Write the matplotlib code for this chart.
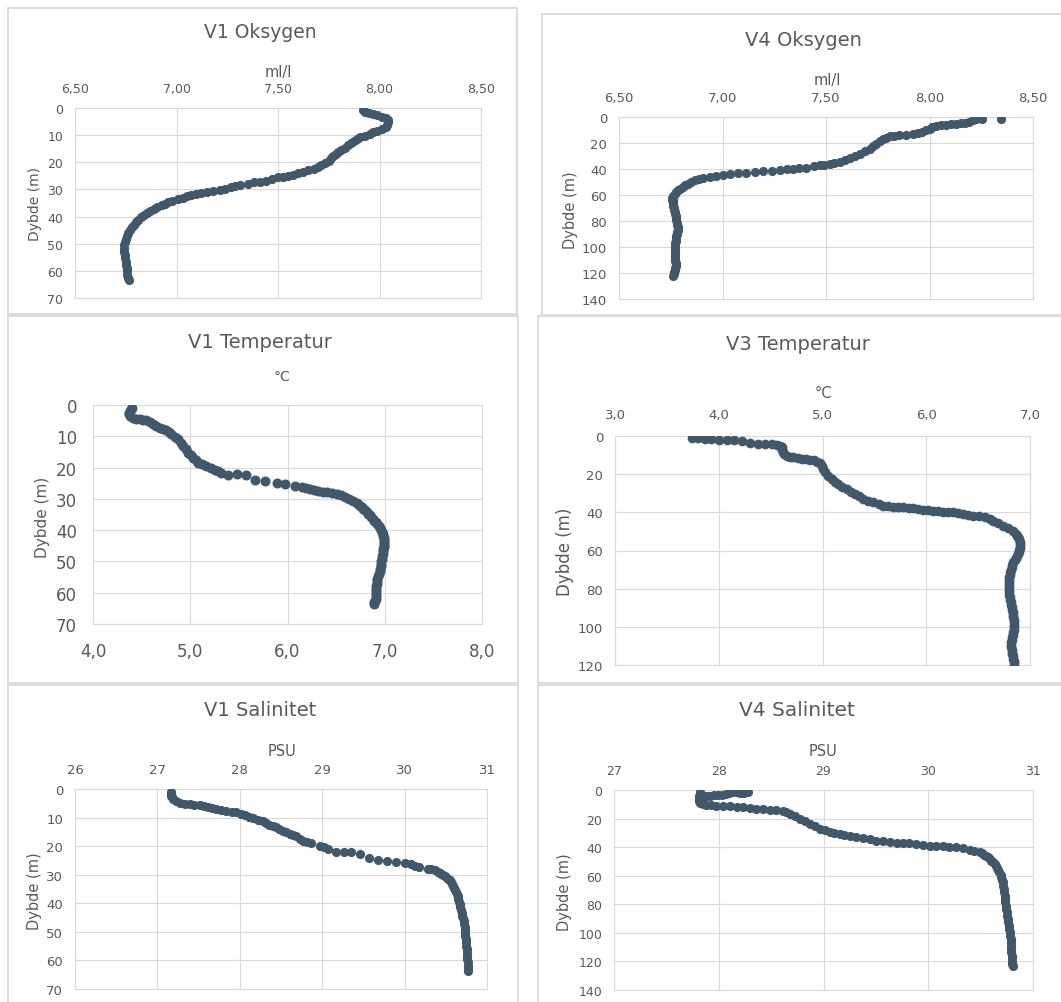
import matplotlib
matplotlib.use("Agg")
import matplotlib.pyplot as plt
from matplotlib.ticker import FuncFormatter, MultipleLocator
from matplotlib.patches import Rectangle

W, H = 1061, 1003
dot_col = "#41586A"
txt_col = "#595959"
line_col = "#D9D9D9"

# ---- V1 Oksygen (ml/l vs depth m)
v1_oks_dybde = [0.7, 1.3, 1.8, 2.3, 2.7, 3.2, 3.8, 4.5, 5.3, 6.1, 7.0, 7.7, 8.3, 9.0, 9.6, 10.2,
                10.8, 11.5, 12.2, 13.0, 13.8, 14.6, 15.4, 16.2, 17.0, 17.8, 18.6, 19.4, 20.2, 20.9,
                21.6, 22.3, 22.9, 23.5, 24.0, 24.5, 24.9, 25.3, 25.6, 26.2, 26.8, 27.1, 27.4, 27.9,
                28.3, 28.8, 29.2, 29.7, 30.1, 30.6, 31.0, 31.3, 31.7, 32.1, 32.6, 33.2, 33.7, 34.1,
                34.7, 35.3, 35.9, 36.5, 37.2, 37.9, 38.7, 39.5, 40.3, 41.1, 42.0, 43.0, 44.0, 45.0,
                46.0, 47.0, 48.2, 49.4, 50.6, 51.8, 53.0, 54.2, 55.4, 56.6, 57.8, 59.0, 60.2, 61.4,
                62.5, 63.5]
v1_oks = [7.92, 7.93, 7.95, 7.97, 7.99, 8.01, 8.03, 8.04, 8.04, 8.035, 8.03, 8.01, 7.99, 7.97,
          7.955, 7.93, 7.905, 7.89, 7.875, 7.86, 7.845, 7.83, 7.81, 7.795, 7.785, 7.77, 7.76,
          7.75, 7.73, 7.71, 7.695, 7.675, 7.65, 7.625, 7.60, 7.575, 7.55, 7.525, 7.50, 7.47,
          7.44, 7.41, 7.38, 7.35, 7.315, 7.29, 7.27, 7.24, 7.215, 7.18, 7.15, 7.12, 7.095, 7.07,
          7.05, 7.03, 7.005, 6.98, 6.96, 6.945, 6.93, 6.905, 6.89, 6.87, 6.855, 6.84, 6.825,
          6.81, 6.80, 6.79, 6.78, 6.77, 6.76, 6.755, 6.75, 6.745, 6.743, 6.743, 6.743, 6.745,
          6.748, 6.75, 6.753, 6.755, 6.756, 6.758, 6.76, 6.765]

# ---- V4 Oksygen
v4_oks_dybde = [1.8, 1.8, 1.8, 2.6, 3.5, 4.4, 4.8, 5.1, 5.5, 5.9, 6.4, 6.9, 7.8, 9.0, 10.2, 11.6,
                12.3, 12.8, 13.5, 14.1, 14.6, 14.9, 15.8, 16.7, 18.5, 20.5, 22.5, 24.4, 26.4, 28.3,
                30.0, 31.6, 33.2, 34.7, 35.7, 36.5, 37.0, 37.2, 38.0, 39.0, 39.4, 39.8, 40.2, 40.6,
                41.2, 41.9, 42.4, 42.9, 43.3, 43.7, 44.4, 45.0, 45.9, 46.8, 47.8, 48.8, 50.1, 51.4,
                52.6, 53.9, 55.2, 56.5, 57.8, 59.1, 60.8, 62.4, 64.6, 66.8, 70.0, 73.2, 76.4, 79.6,
                82.8, 86.0, 88.6, 91.2, 95.0, 98.9, 102.7, 106.6, 110.4, 114.3, 117.5, 120.7, 122.0,
                61.6, 63.5, 65.7, 68.4, 71.6, 74.8, 78.0, 81.2, 84.4, 87.3, 89.9, 93.1, 97.0,
                100.8, 104.6, 108.5, 112.3, 115.9, 119.1]
v4_oks = [8.344, 8.254, 8.226, 8.21, 8.19, 8.17, 8.15, 8.13, 8.105, 8.08, 8.055, 8.03, 8.01, 8.00,
          7.985, 7.965, 7.945, 7.92, 7.885, 7.855, 7.83, 7.81, 7.79, 7.775, 7.76, 7.743, 7.727,
          7.711, 7.69, 7.663, 7.64, 7.614, 7.59, 7.566, 7.54, 7.518, 7.49, 7.47, 7.44, 7.405,
          7.37, 7.34, 7.31, 7.276, 7.24, 7.196, 7.155, 7.115, 7.075, 7.035, 7.00, 6.97, 6.94,
          6.906, 6.885, 6.866, 6.85, 6.833, 6.82, 6.809, 6.797, 6.785, 6.777, 6.769, 6.763,
          6.758, 6.759, 6.761, 6.765, 6.769, 6.773, 6.777, 6.781, 6.785, 6.781, 6.777, 6.773,
          6.769, 6.769, 6.769, 6.772, 6.774, 6.769, 6.764, 6.761,
          6.76, 6.758, 6.76, 6.763, 6.767, 6.771, 6.775, 6.779, 6.783, 6.783, 6.779, 6.775,
          6.771, 6.769, 6.769, 6.77, 6.773, 6.772, 6.766]

# ---- V1 Temperatur (degC)
v1_temp_dybde = [0.85, 1.4, 1.9, 2.5, 3.0, 3.5, 4.0, 4.4, 4.6, 4.8, 4.9, 5.5, 6.2, 6.7, 7.2, 7.6,
                 8.0, 8.6, 9.3, 10.1, 10.9, 12.0, 13.1, 14.2, 15.2, 16.0, 16.8, 17.6, 18.4, 18.9,
                 19.4, 20.1, 20.8, 21.2, 21.6, 22.3, 22.1, 22.4, 23.9, 24.4, 25.0, 25.3, 25.8,
                 26.3, 26.6, 26.9, 27.3, 27.6, 27.8, 27.9, 28.2, 28.5, 28.9, 29.3, 29.9, 30.6,
                 31.4, 32.2, 33.2, 34.3, 35.3, 36.4, 37.5, 38.6, 39.9, 41.2, 42.5, 43.9, 45.0,
                 46.0, 47.6, 49.2, 50.8, 52.4, 54.0, 55.6, 57.2, 58.7, 60.3, 61.9, 62.7, 63.5,
                 31.8, 32.7, 33.7, 34.8, 35.8, 37.0, 38.0, 39.2, 40.5, 41.8, 43.2, 44.4, 45.5,
                 46.8, 48.4, 50.0, 51.6, 53.2, 54.8, 56.4, 58.0, 59.5, 61.1, 63.1]
v1_temp = [4.405, 4.395, 4.385, 4.375, 4.37, 4.385, 4.41, 4.445, 4.48, 4.515, 4.55, 4.585, 4.618,
           4.65, 4.687, 4.72, 4.755, 4.78, 4.807, 4.84, 4.876, 4.90, 4.927, 4.953, 4.979, 5.005,
           5.03, 5.056, 5.082, 5.12, 5.167, 5.21, 5.253, 5.285, 5.32, 5.39, 5.483, 5.573, 5.665,
           5.768, 5.888, 5.974, 6.077, 6.146, 6.19, 6.232, 6.275, 6.318, 6.36, 6.403, 6.455,
           6.506, 6.55, 6.592, 6.635, 6.678, 6.712, 6.747, 6.78, 6.816, 6.846, 6.877, 6.906,
           6.936, 6.958, 6.98, 6.99, 6.997, 6.992, 6.987, 6.978, 6.97, 6.962, 6.953, 6.94,
           6.925, 6.918, 6.911, 6.908, 6.905, 6.898, 6.89,
           6.73, 6.763, 6.798, 6.83, 6.862, 6.892, 6.92, 6.948, 6.97, 6.985, 6.994, 6.995, 6.99,
           6.983, 6.974, 6.966, 6.958, 6.947, 6.932, 6.921, 6.914, 6.91, 6.906, 6.894]

# ---- V3 Temperatur
v3_temp_dybde = [1.2, 1.0, 1.6, 1.6, 2.1, 2.1, 2.1, 2.8, 3.7, 4.2, 4.2, 4.2, 4.5, 5.2, 5.9, 7.2,
                 8.6, 9.5, 10.3, 10.8, 11.2, 11.6, 12.1, 12.3, 12.4, 12.8, 13.4, 14.4, 15.5, 17.2,
                 19.0, 20.8, 22.5, 23.9, 25.2, 26.5, 27.8, 29.1, 30.4, 31.7, 33.0, 33.9, 34.8,
                 35.7, 36.5, 36.7, 37.0, 37.1, 37.4, 37.6, 37.9, 38.3, 38.8, 38.9, 39.1, 39.4,
                 39.7, 39.8, 40.0, 40.4, 40.9, 41.3, 41.7, 42.1, 42.6, 43.5, 44.4, 45.7, 47.0,
                 48.3, 49.6, 51.3, 53.1, 55.3, 57.5, 59.6, 61.8, 64.0, 66.2, 68.8, 71.4, 74.0,
                 76.7, 79.3, 81.9, 84.5, 87.2, 89.8, 92.4, 95.0, 97.6, 100.2, 102.9, 105.5, 108.1,
                 110.7, 113.3, 115.5, 117.7, 120.3,
                 52.2, 54.2, 56.4, 58.5, 60.7, 62.9, 65.1, 67.5, 70.1, 72.7, 75.3, 78.0, 80.6,
                 83.2, 85.8, 88.5, 91.1, 93.7, 96.3, 98.9, 101.5, 104.2, 106.8, 109.4, 112.0,
                 114.4, 116.6, 119.0]
v3_temp = [3.745, 3.80, 3.867, 3.93, 4.005, 4.076, 4.147, 4.22, 4.30, 4.38, 4.446, 4.51, 4.558,
           4.59, 4.606, 4.61, 4.616, 4.63, 4.655, 4.69, 4.72, 4.76, 4.80, 4.84, 4.88, 4.915,
           4.95, 4.975, 4.992, 5.008, 5.024, 5.055, 5.088, 5.12, 5.153, 5.19, 5.233, 5.273,
           5.313, 5.353, 5.394, 5.44, 5.49, 5.54, 5.586, 5.63, 5.683, 5.73, 5.779, 5.83, 5.876,
           5.92, 5.972, 6.02, 6.068, 6.115, 6.165, 6.21, 6.261, 6.31, 6.357, 6.405, 6.454, 6.51,
           6.566, 6.61, 6.647, 6.695, 6.743, 6.79, 6.839, 6.865, 6.888, 6.90, 6.904, 6.897,
           6.888, 6.865, 6.839, 6.822, 6.807, 6.80, 6.797, 6.797, 6.797, 6.805, 6.814, 6.824,
           6.833, 6.84, 6.846, 6.843, 6.839, 6.828, 6.817, 6.82, 6.823, 6.835, 6.846, 6.846,
           6.877, 6.895, 6.903, 6.901, 6.893, 6.877, 6.852, 6.83, 6.814, 6.803, 6.798, 6.797,
           6.797, 6.80, 6.81, 6.819, 6.829, 6.837, 6.843, 6.845, 6.841, 6.833, 6.822, 6.818,
           6.822, 6.829, 6.84, 6.846]

# ---- V1 Salinitet (PSU)
v1_sal_dybde = [1.2, 1.8, 2.3, 2.9, 3.5, 4.2, 4.9, 5.1, 5.3, 5.5, 5.6, 6.0, 6.4, 6.7, 7.0, 7.4,
                7.7, 7.9, 8.2, 8.6, 9.1, 9.7, 10.3, 10.7, 11.1, 11.8, 12.5, 13.0, 13.4, 14.0,
                14.6, 15.2, 15.8, 16.2, 16.6, 17.4, 18.1, 18.5, 18.9, 19.8, 20.4, 21.0, 21.9,
                22.2, 22.2, 22.8, 24.2, 24.7, 25.3, 25.4, 25.9, 26.3, 26.8, 27.4, 28.0, 28.1,
                28.2, 29.0, 29.8, 30.6, 31.5, 32.6, 33.8, 35.3, 36.8, 38.5, 40.3, 42.3, 44.3,
                46.3, 48.4, 50.5, 52.5, 54.8, 57.2, 59.5, 61.8, 63.6,
                29.4, 30.2, 31.0, 32.0, 33.2, 34.5, 36.0, 37.6, 39.4, 41.3, 43.3, 45.3, 47.3,
                49.4, 51.5, 53.6, 56.0, 58.3, 60.6, 62.7]
v1_sal = [27.169, 27.169, 27.17, 27.18, 27.19, 27.22, 27.27, 27.33, 27.39, 27.45, 27.513, 27.56,
          27.614, 27.665, 27.715, 27.775, 27.836, 27.9, 27.958, 28.01, 28.06, 28.11, 28.16,
          28.22, 28.28, 28.32, 28.36, 28.40, 28.44, 28.48, 28.52, 28.56, 28.605, 28.645,
          28.686, 28.725, 28.767, 28.82, 28.868, 28.97, 29.02, 29.07, 29.163, 29.26, 29.353,
          29.463, 29.564, 29.677, 29.786, 29.9, 30.0, 30.08, 30.13, 30.18, 30.28, 30.32, 30.365,
          30.41, 30.445, 30.49, 30.527, 30.56, 30.587, 30.61, 30.636, 30.653, 30.668, 30.685,
          30.70, 30.715, 30.73, 30.735, 30.74, 30.748, 30.757, 30.763, 30.77, 30.77,
          30.43, 30.47, 30.51, 30.545, 30.575, 30.6, 30.623, 30.645, 30.66, 30.677, 30.693,
          30.708, 30.722, 30.733, 30.738, 30.744, 30.752, 30.76, 30.767, 30.77]

# ---- V4 Salinitet
v4_sal_dybde = [1.6, 1.8, 2.1, 1.6, 1.6, 2.2, 2.8, 3.2, 3.5, 3.8, 4.0, 4.0, 4.0, 1.6, 2.8, 4.5,
                6.3, 7.7, 9.1, 10.0, 10.5, 10.8, 11.0, 11.2, 11.4, 11.8, 12.1, 12.7, 13.3, 13.5,
                13.8, 14.1, 14.5, 15.6, 16.8, 18.5, 20.3, 22.0, 23.8, 25.5, 27.3, 28.2, 29.2,
                30.0, 30.8, 31.4, 32.0, 32.9, 33.8, 34.6, 35.5, 36.0, 36.6, 36.8, 37.1, 37.4,
                37.8, 38.4, 39.0, 39.2, 39.4, 39.7, 40.1, 40.9, 41.8, 42.6, 43.6, 45.3, 47.1,
                49.4, 51.8, 54.7, 57.6, 61.1, 64.6, 69.3, 74.0, 78.6, 83.3, 88.0, 92.6, 97.3,
                102.0, 106.6, 111.3, 116.0, 120.6, 123.0,
                44.4, 46.2, 48.2, 50.6, 53.2, 56.1, 59.3, 62.8, 66.9, 71.6, 76.3, 81.0, 85.6,
                90.3, 95.0, 99.6, 104.3, 109.0, 113.6, 118.3, 121.8]
v4_sal = [28.279, 28.24, 28.2, 28.17, 28.136, 28.10, 28.07, 28.03, 27.993, 27.95, 27.913, 27.88,
          27.85, 27.818, 27.824, 27.815, 27.808, 27.81, 27.818, 27.85, 27.88, 27.93, 27.977,
          28.04, 28.104, 28.17, 28.23, 28.30, 28.36, 28.42, 28.486, 28.55, 28.613, 28.645,
          28.677, 28.725, 28.772, 28.82, 28.868, 28.915, 28.963, 29.01, 29.059, 29.105, 29.154,
          29.2, 29.25, 29.31, 29.377, 29.44, 29.504, 29.57, 29.632, 29.70, 29.759, 29.82,
          29.886, 29.95, 30.013, 30.075, 30.14, 30.2, 30.268, 30.33, 30.395, 30.44, 30.49,
          30.53, 30.57, 30.6, 30.634, 30.66, 30.68, 30.697, 30.712, 30.72, 30.728, 30.736,
          30.744, 30.755, 30.766, 30.775, 30.783, 30.788, 30.792, 30.796, 30.80, 30.807,
          30.51, 30.55, 30.585, 30.617, 30.647, 30.67, 30.69, 30.705, 30.716, 30.724, 30.732,
          30.74, 30.75, 30.76, 30.77, 30.779, 30.786, 30.79, 30.794, 30.798, 30.803]

fig = plt.figure(figsize=(W / 100, H / 100), dpi=100)
fig.patch.set_facecolor("white")


def fx(x):
    return x / W


def fy(y):
    return 1 - y / H


def card(x0, y0, x1, y1):
    fig.patches.append(Rectangle((fx(x0), fy(y1)), fx(x1 - x0), (y1 - y0) / H,
                                 transform=fig.transFigure, fill=False,
                                 ec=line_col, lw=1.3, zorder=0))


def comma_fmt(dec):
    return FuncFormatter(lambda v, p: ("{:.%df}" % dec).format(v).replace(".", ","))


def panel(box, xs, ds, xlim, xstep, dec, ymax, ystep, top=True, fs=9, xpad=9, ypad=8.5, ms=6.6):
    x0, y0, x1, y1 = box
    ax = fig.add_axes([fx(x0), fy(y1), fx(x1 - x0), (y1 - y0) / H])
    ax.plot(xs, ds, "o", ms=ms, color=dot_col, mec=dot_col, mew=0, zorder=3)
    ax.set_xlim(*xlim)
    ax.set_ylim(ymax, 0)
    ax.xaxis.set_major_locator(MultipleLocator(xstep))
    ax.yaxis.set_major_locator(MultipleLocator(ystep))
    ax.xaxis.set_major_formatter(comma_fmt(dec))
    ax.grid(True, color=line_col, lw=0.8)
    ax.set_axisbelow(True)
    for s in ax.spines.values():
        s.set_color(line_col)
        s.set_linewidth(0.8)
    if top:
        ax.xaxis.tick_top()
    ax.tick_params(axis="x", length=0, pad=xpad, labelsize=fs, labelcolor=txt_col)
    ax.tick_params(axis="y", length=0, pad=ypad, labelsize=fs, labelcolor=txt_col)
    return ax


def label(x, y, s, size, rot=0):
    fig.text(fx(x), fy(y), s, ha="center", va="center", fontsize=size,
             color=txt_col, rotation=rot)


# cards (panel frames)
card(8, 9, 517, 315)
card(542, 15, 1075, 316)
card(8, 317, 518, 684)
card(538, 317, 1075, 684)
card(8, 686, 518, 1015)
card(538, 686, 1075, 1015)

# V1 Oksygen
panel((75, 109, 481, 299), v1_oks, v1_oks_dybde, (6.5, 8.5), 0.5, 2, 70, 10)
label(260, 33, "V1 Oksygen", 13.5)
label(278, 73, "ml/l", 10.5)
label(35, 204, "Dybde (m)", 10, 90)

# V4 Oksygen
panel((619, 118, 1033, 300), v4_oks, v4_oks_dybde, (6.5, 8.5), 0.5, 2, 140, 20, fs=9.5, xpad=9.5)
label(803, 40, "V4 Oksygen", 14)
label(827, 81, "ml/l", 10.5)
label(570, 210, "Dybde (m)", 10.5, 90)

# V1 Temperatur
panel((93, 406, 482, 625), v1_temp, v1_temp_dybde, (4.0, 8.0), 1.0, 1, 70, 10,
      top=False, fs=12, xpad=13, ypad=11.5, ms=7.2)
label(260, 343, "V1 Temperatur", 14)
label(282, 377, "°C", 10)
label(42, 517, "Dybde (m)", 11, 90)

# V3 Temperatur
panel((615, 437, 1030, 666), v3_temp, v3_temp_dybde, (3.0, 7.0), 1.0, 1, 120, 20,
      fs=9.5, xpad=10.5, ypad=8.5, ms=7)
label(798, 345, "V3 Temperatur", 14)
label(823, 393, "°C", 10.5)
label(565, 552, "Dybde (m)", 12, 90)

# V1 Salinitet
panel((75, 790, 487, 990), v1_sal, v1_sal_dybde, (26, 31), 1, 0, 70, 10, fs=9.5)
label(260, 710, "V1 Salinitet", 14)
label(282, 752, "PSU", 10.5)
label(35, 891, "Dybde (m)", 10.5, 90)

# V4 Salinitet
panel((614, 791, 1033, 991), v4_sal, v4_sal_dybde, (27, 31), 1, 0, 140, 20, fs=9)
label(797, 710, "V4 Salinitet", 14.5)
label(823, 752, "PSU", 10.5)
label(565, 892, "Dybde (m)", 10.5, 90)

fig.savefig("out.png", dpi=100, facecolor="white")
